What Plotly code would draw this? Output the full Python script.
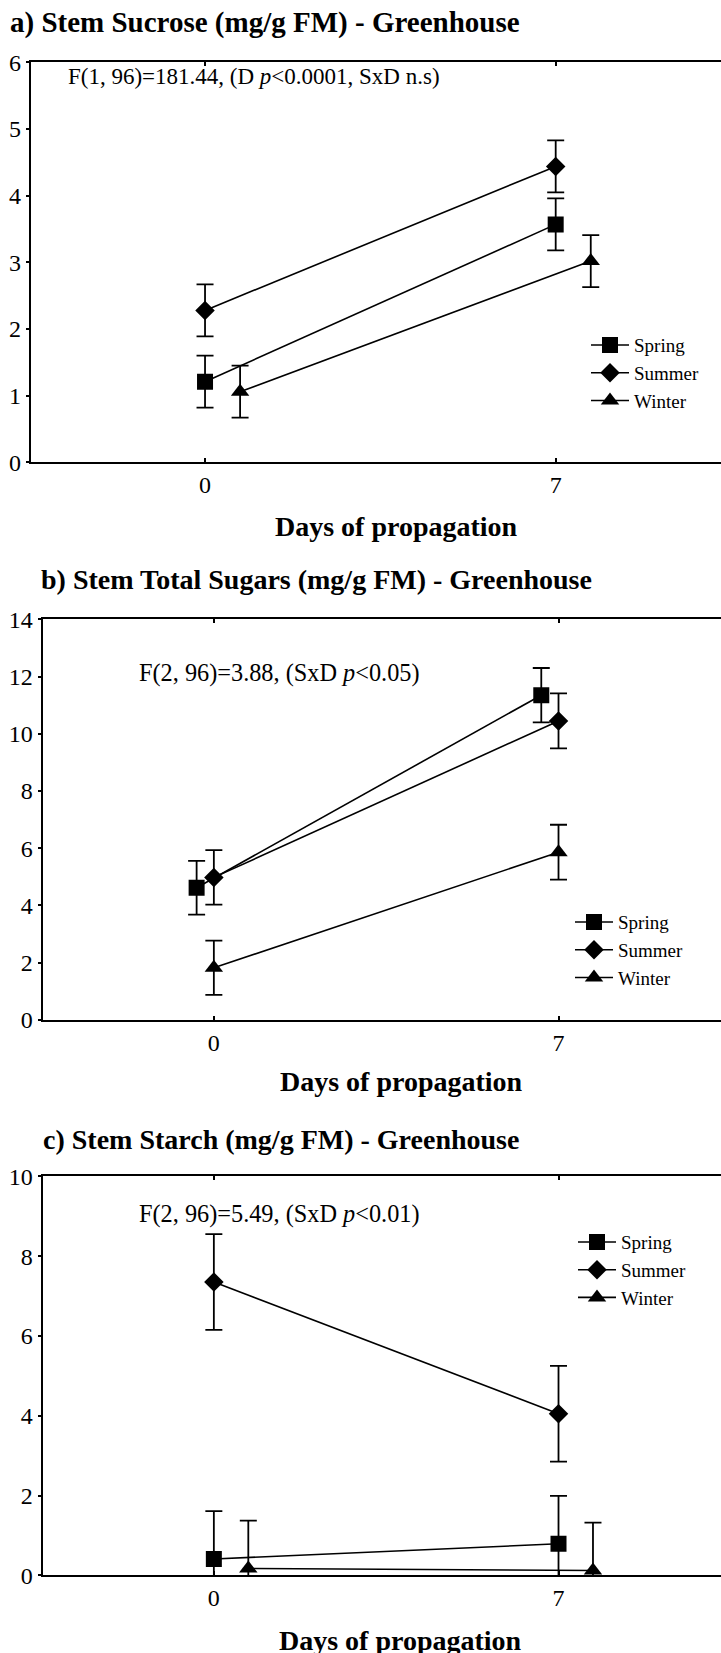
import plotly.graph_objects as go

W = 721
H_FIG = 1672  # a little taller than the window so the bottom label is not clipped

# ---------------- data ----------------
days = [0, 7]
seasons = ["Spring", "Summer", "Winter"]

# a) Stem sucrose (mg/g FM)
sucrose_mean = {"Spring": [1.21, 3.57], "Summer": [2.28, 4.44], "Winter": [1.06, 3.02]}
sucrose_err = {"Spring": [0.39, 0.39], "Summer": [0.39, 0.39], "Winter": [0.39, 0.39]}

# b) Stem total sugars (mg/g FM)
sugars_mean = {"Spring": [4.62, 11.35], "Summer": [4.98, 10.45], "Winter": [1.82, 5.86]}
sugars_err = {"Spring": [0.94, 0.95], "Summer": [0.95, 0.96], "Winter": [0.95, 0.96]}

# c) Stem starch (mg/g FM)
starch_mean = {"Spring": [0.41, 0.79], "Summer": [7.35, 4.05], "Winter": [0.17, 0.12]}
starch_err = {"Spring": [1.2, 1.2], "Summer": [1.2, 1.2], "Winter": [1.2, 1.2]}

panel_titles = [
    "a) Stem Sucrose (mg/g FM) - Greenhouse",
    "b) Stem Total Sugars (mg/g FM) - Greenhouse",
    "c) Stem Starch (mg/g FM) - Greenhouse",
]
stat_texts = [
    "F(1, 96)=181.44, (D <i>p</i><0.0001, SxD n.s)",
    "F(2, 96)=3.88, (SxD <i>p</i><0.05)",
    "F(2, 96)=5.49, (SxD <i>p</i><0.01)",
]
x_title = "Days of propagation"
x_ticks = [0, 7]
y_ticks = [list(range(0, 7)), list(range(0, 15, 2)), list(range(0, 11, 2))]
y_ranges = [[0, 6], [0, 14], [0, 10]]

# ---------------- style ----------------
FONT = "Liberation Serif"
symbols = {"Spring": "square", "Summer": "diamond", "Winter": "triangle-up"}
msize = {"Spring": 16, "Summer": 15, "Winter": 16}
# horizontal dodge of each series (in day units) per panel
dodge = [
    {"Spring": 0.0, "Summer": 0.0, "Winter": 0.7},
    {"Spring": -0.35, "Summer": 0.0, "Winter": 0.0},
    {"Spring": 0.0, "Summer": 0.0, "Winter": 0.7},
]

def comp(py):
    # compensate the vertical offset/scale observed in the rendered photo
    return (py - 11.6) / 0.9845

def xp(px):
    return px / W

def yp(py):
    return 1 - comp(py) / H_FIG

# target pixel positions: plot areas (left, top, bottom)
areas = [(30.7, 61, 461), (42.5, 618, 1018.5), (42.5, 1175, 1574)]
title_pos = [(7.5, 21, 29), (39, 578, 28), (41, 1138, 28)]
stat_pos = [(254, 75, 23), (279, 672, 24.3), (279, 1213, 24.3)]
xt_pos = [(396, 525), (401, 1080), (400, 1639)]
legend_rows = [(586, 346), (570, 923), (573, 1243)]
LEG_FIRST_ROW = 21.5

datasets = [(sucrose_mean, sucrose_err), (sugars_mean, sugars_err), (starch_mean, starch_err)]

fig = go.Figure()
annotations = []
layout = dict(
    width=W, height=H_FIG, margin=dict(l=0, r=0, t=0, b=0),
    paper_bgcolor="white", plot_bgcolor="white",
    font=dict(family=FONT, color="black"),
    showlegend=True,
)

for i, ((means, errs), area) in enumerate(zip(datasets, areas)):
    k = "" if i == 0 else str(i + 1)
    xa, ya = "x" + k, "y" + k
    leg = "legend" + k
    for s in seasons:
        fig.add_trace(go.Scatter(
            x=[d + dodge[i][s] for d in days], y=means[s],
            xaxis=xa, yaxis=ya, name=s, legend=leg,
            mode="lines+markers",
            line=dict(color="black", width=1.6),
            marker=dict(symbol=symbols[s], size=msize[s], color="black"),
            error_y=dict(type="data", array=errs[s], visible=True,
                         color="black", thickness=1.8, width=8.5),
        ))
    left, top, bottom = area
    layout["xaxis" + k] = dict(
        domain=[xp(left), 1], anchor=ya, range=[-3.48, 10.3],
        tickvals=x_ticks, ticktext=[str(t) for t in x_ticks],
        showline=True, linecolor="black", linewidth=2, mirror="ticks",
        ticks="inside", ticklen=4, tickwidth=1.5, tickcolor="black",
        showgrid=False, zeroline=False,
        tickfont=dict(family=FONT, size=24, color="black"),
    )
    layout["yaxis" + k] = dict(
        domain=[yp(bottom), yp(top)], anchor=xa, range=y_ranges[i],
        tickvals=y_ticks[i],
        showline=True, linecolor="black", linewidth=2,
        ticks="outside", ticklen=3, tickwidth=1.5, tickcolor="black",
        showgrid=False, zeroline=False,
        tickfont=dict(family=FONT, size=24, color="black"),
    )
    lx, lrow = legend_rows[i]
    layout[leg] = dict(
        x=xp(lx), y=1 - (comp(lrow) - LEG_FIRST_ROW) / H_FIG, xanchor="left", yanchor="top",
        bgcolor="rgba(0,0,0,0)", borderwidth=0, itemwidth=38,
        font=dict(family=FONT, size=19, color="black"),
        tracegroupgap=0,
    )
    tx, ty, tfs = title_pos[i]
    annotations.append(dict(text="<b>" + panel_titles[i] + "</b>", xref="paper", yref="paper",
                            x=xp(tx), y=yp(ty), xanchor="left", yanchor="middle", showarrow=False,
                            font=dict(family=FONT, size=tfs, color="black")))
    sx, sy, sfs = stat_pos[i]
    annotations.append(dict(text=stat_texts[i], xref="paper", yref="paper",
                            x=xp(sx), y=yp(sy), xanchor="center", yanchor="middle", showarrow=False,
                            font=dict(family=FONT, size=sfs, color="black")))
    ax, ay = xt_pos[i]
    annotations.append(dict(text="<b>" + x_title + "</b>", xref="paper", yref="paper",
                            x=xp(ax), y=yp(ay), xanchor="center", yanchor="middle", showarrow=False,
                            font=dict(family=FONT, size=28, color="black")))

layout["annotations"] = annotations
fig.update_layout(**layout)
fig.write_html(
    "out.html",
    config={"displayModeBar": False},
    post_script=(
        "var gd=document.getElementById('{plot_id}');"
        "document.documentElement.style.cssText='margin:0;padding:0;overflow:hidden;';"
        "document.body.style.cssText='margin:0;padding:0;overflow:hidden;';"
        "gd.style.position='fixed';gd.style.top='0px';gd.style.left='0px';"
    ),
)
